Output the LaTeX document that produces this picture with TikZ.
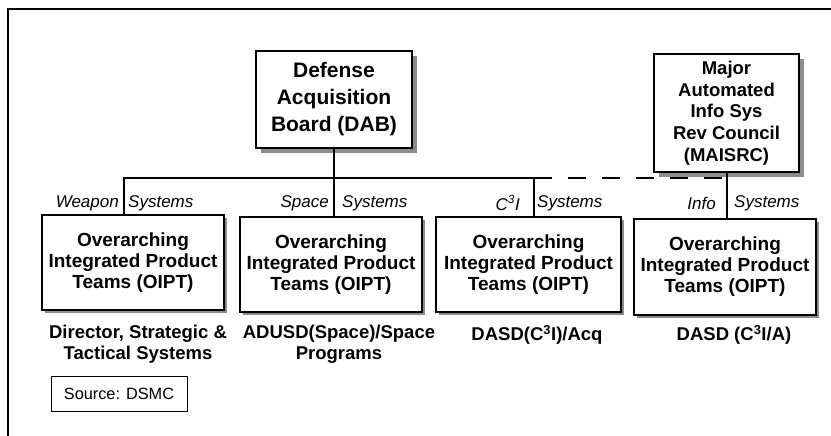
\documentclass[tikz,border=0pt]{standalone}
\usepackage{fontspec}
\setmainfont{Liberation Sans}
\usetikzlibrary{shadows}

\begin{document}
\begin{tikzpicture}[x=1pt, y=-1pt,
    board/.style={draw, line width=1.4pt, fill=white, align=center, inner sep=0pt,
      drop shadow={shadow xshift=5pt, shadow yshift=-5pt, fill=black!45, opacity=1}},
    oipt/.style={draw, line width=2.6pt, fill=white, align=center, inner sep=0pt,
      minimum width=182pt, minimum height=95pt,
      font=\fontsize{19}{21}\selectfont\bfseries,
      drop shadow={shadow xshift=3pt, shadow yshift=-3pt, fill=black!45, opacity=1}},
    link/.style={line width=2pt},
    brlab/.style={inner sep=0pt, font=\fontsize{17}{20}\selectfont\itshape},
    office/.style={inner sep=0pt, align=center, anchor=north,
      font=\fontsize{18.5}{21}\selectfont\bfseries}]
  \useasboundingbox (0,0) rectangle (831,436);
  \draw[line width=1.8pt] (8,436) -- (8,9) -- (831,9);

  \node[board, minimum width=156pt, minimum height=97pt,
    font=\fontsize{21}{27}\selectfont\bfseries] (dab) at (334,99.5)
    {Defense\\Acquisition\\Board (DAB)};
  \node[board, minimum width=145pt, minimum height=118pt,
    font=\fontsize{18.5}{21.7}\selectfont\bfseries] (maisrc) at (726.5,113)
    {Major\\Automated\\Info Sys\\Rev Council\\(MAISRC)};

  \node[oipt] (weapon) at (133,262.5) {Overarching\\Integrated Product\\Teams (OIPT)};
  \node[oipt] (space) at (331,264.5) {Overarching\\Integrated Product\\Teams (OIPT)};
  \node[oipt, minimum width=185pt] (cthree) at (528.5,264.5) {Overarching\\Integrated Product\\Teams (OIPT)};
  \node[oipt, minimum height=96pt] (info) at (725,267) {Overarching\\Integrated Product\\Teams (OIPT)};

  \coordinate (wsplit) at (124,178);
  \coordinate (csplit) at (534,178);
  \draw[link] (dab.south) -- (dab.south |- space.north);
  \draw[link] (wsplit |- weapon.north) -- (wsplit) -- (csplit) -- (csplit |- cthree.north);
  \draw[link, dash pattern=on 18pt off 16pt] (csplit) -- (csplit -| maisrc.south);
  \draw[link] (maisrc.south) -- (maisrc.south |- info.north);

  \node[brlab, anchor=east] (wl) at (119,203) {Weapon};
  \node[brlab, anchor=west] (wr) at (128,203) {Systems};
  \node[brlab, anchor=east] (sl) at (329,203) {Space};
  \node[brlab, anchor=west] (sr) at (342,203) {Systems};
  \node[brlab, anchor=east] (cl) at (520,203) {C$^{\mathit 3}$I};
  \node[brlab, anchor=west] (cr) at (537,203) {Systems};
  \node[brlab, anchor=east] (il) at (716,203) {Info};
  \node[brlab, anchor=west] (ir) at (734,203) {Systems};

  \node[office] (dstrat) at (138,325) {Director, Strategic \&\\Tactical Systems};
  \node[office] (adusd) at (339,325) {ADUSD(Space)/Space\\Programs};
  \node[office] (dacq) at (537,325) {DASD(C\textsuperscript{3}I)/Acq};
  \node[office] (dca) at (734,325) {DASD (C\textsuperscript{3}I/A)};

  \node[draw, line width=1pt, minimum width=136pt, minimum height=35pt, inner sep=0pt,
    font=\fontsize{16.3}{19}\selectfont] (source) at (119,393.5) {Source: DSMC};
\end{tikzpicture}
\end{document}
